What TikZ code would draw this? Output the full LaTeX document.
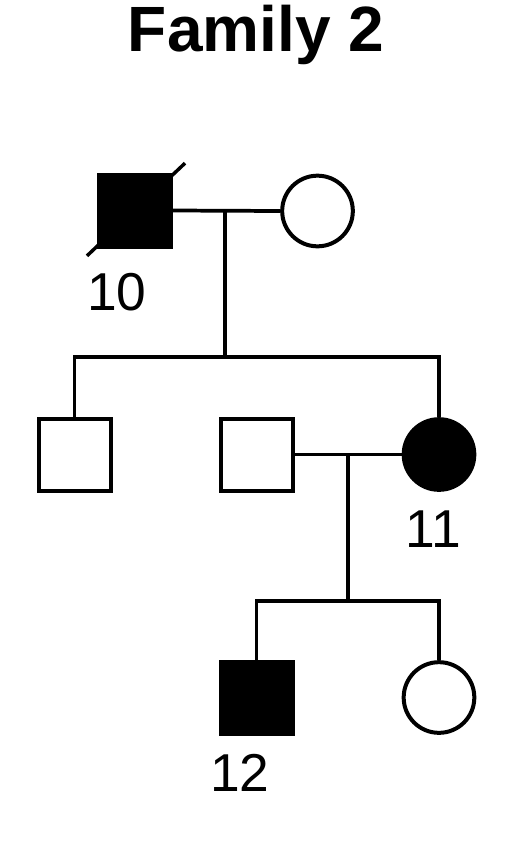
\documentclass[tikz,border=0pt]{standalone}
\usepackage{fontspec}
\setmainfont{Liberation Sans}
\begin{document}
\begin{tikzpicture}[x=0.75pt,y=-0.75pt,
  line width=3pt,
  male/.style={draw,rectangle,minimum size=54pt,inner sep=0pt},
  female/.style={draw,circle,minimum size=53pt,inner sep=0pt},
  aff/.style={fill=black},
  unaff/.style={fill=white},
  lbl/.style={font=\fontsize{40}{40}\selectfont,anchor=base,inner sep=0pt},
  conn/.style={line width=2.8pt}]
\useasboundingbox (0,0) rectangle (520,850);
\node[font=\fontsize{48}{48}\selectfont\bfseries,anchor=base,inner sep=0pt] (title) at (256,51) {Family 2};
% generation I
\node[male,aff] (p10) at (135,210.5) {};
\node[female,unaff] (w10) at (317.5,211) {};
\draw[line width=2.6pt] ([shift={(-7.5pt,-5.5pt)}]p10.south west) -- ([shift={(9pt,7pt)}]p10.north east);
\node[lbl] (l10) at (117,310) {10};
% generation II
\node[male,unaff] (s1) at (74.5,454.5) {};
\node[male,unaff] (s2) at (256.5,454.5) {};
\node[female,aff] (d11) at (439,454.5) {};
\node[lbl] (l11) at (433,547) {11};
% generation III
\node[male,aff] (s12) at (256.5,697.5) {};
\node[female,unaff] (d3) at (439,697.5) {};
\node[lbl] (l12) at (240,791) {12};
% connectors
\coordinate (m1) at (225,211);
\coordinate (sib1) at (225,357);
\coordinate (sib1l) at (74.5,357);
\coordinate (sib1r) at (439,357);
\draw[conn] (p10.east) -- (w10.west);
\draw[conn] (m1) -- (sib1);
\draw[conn] (s1.north) -- (sib1l) -- (sib1r) -- (d11.north);
\coordinate (m2) at (348,454.5);
\coordinate (sib2) at (348,601);
\coordinate (sib2l) at (256.5,601);
\coordinate (sib2r) at (439,601);
\draw[conn] (s2.east) -- (d11.west);
\draw[conn] (m2) -- (sib2);
\draw[conn] (s12.north) -- (sib2l) -- (sib2r) -- (d3.north);
\end{tikzpicture}
\end{document}
